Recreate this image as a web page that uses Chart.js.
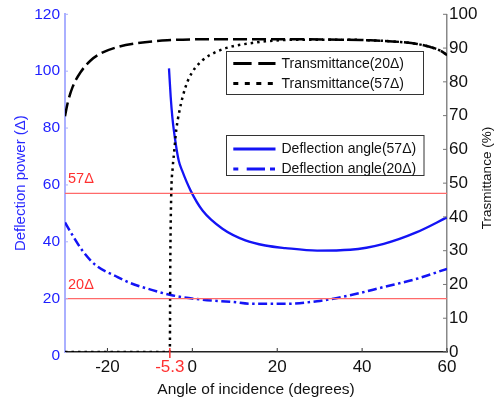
<!DOCTYPE html>
<html>
<head>
<meta charset="utf-8">
<title>Deflection power and transmittance vs angle of incidence</title>
<script src="https://cdn.jsdelivr.net/npm/chart.js@4/dist/chart.umd.min.js"></script>
<style>
  html, body { margin: 0; padding: 0; background: #fff; }
  #chart { display: block; }
</style>
</head>
<body>
<canvas id="chart" width="494" height="405"></canvas>
<script>
// Values (angle of incidence in degrees)
const t20Angle = [-30, -29.4, -28.2, -26.3, -23.9, -21.6, -17.6, -13.8, -5.9, 5, 20, 35, 42, 49, 53, 56.1, 58.5, 60];
const t20Values = [69.8, 73.6, 78.5, 82.9, 86.4, 88.4, 90.3, 91.3, 92.3, 92.6, 92.6, 92.5, 92.3, 91.8, 91.2, 90.3, 89.2, 87.9];

const t57Angle = [-30, -5.3, -5.2, -5.0, -4.6, -4.3, -3.8, -3.0, -1.6, 0, 2.4, 5.5, 9.4, 14.1, 17.2, 25, 35, 42, 49, 53, 56.1, 58.5, 60];
const t57Values = [0, 0, 25, 45, 55, 59, 65.6, 71.6, 78.5, 82.9, 86.4, 88.8, 90.5, 91.5, 92, 92.5, 92.5, 92.3, 91.8, 91.2, 90.3, 89.2, 87.9];

const d57Angle = [-5.5, -5.1, -4.7, -3.9, -3.2, -2.4, -0.4, 2.4, 7.1, 12.5, 17.2, 21.9, 29.4, 37.2, 45.1, 52.9, 60];
const d57Values = [101, 91, 83.7, 74.4, 68.5, 65, 58, 51, 44.6, 40.5, 38.7, 37.8, 36.9, 37.2, 39.3, 43.4, 48.6];

const d20Angle = [-30, -28.1, -25.7, -22.7, -17.6, -14.8, -9.8, -5.1, 2, 9.8, 13.7, 21.6, 29.4, 37.2, 45.1, 52.9, 60];
const d20Values = [46.8, 42, 36.5, 31.7, 27.6, 25.6, 23.2, 21.3, 19.7, 18.8, 18.2, 18.2, 19.1, 21.2, 24.1, 27.0, 30.5];

const refLevels = [57, 20];
const refLabels = ['57Δ', '20Δ'];
const criticalAngle = -5.3;

const xTicks = [-20, -5.3, 0, 20, 40, 60];
const leftTicks = [0, 20, 40, 60, 80, 100, 120];
const rightTicks = [0, 10, 20, 30, 40, 50, 60, 70, 80, 90, 100];

const FONT = "'Liberation Sans', Arial, Helvetica, sans-serif";
const BLUE = '#1414f5';
const RED = '#ff3030';

function toPoints(xs, ys) {
  return xs.map((x, i) => ({ x: x, y: ys[i] }));
}

function line(ctx, x1, y1, x2, y2) {
  ctx.beginPath();
  ctx.moveTo(x1, y1);
  ctx.lineTo(x2, y2);
  ctx.stroke();
}

// inward ticks, red markers, right title and the two legend boxes
const overlay = {
  id: 'overlay',
  afterDraw(chart) {
    const ctx = chart.ctx;
    const { x, y, y2 } = chart.scales;
    const area = chart.chartArea;
    ctx.save();
    ctx.setLineDash([]);

    ctx.lineWidth = 1;
    ctx.strokeStyle = '#333';
    xTicks.forEach(v => {
      if (v === criticalAngle) return;
      const px = x.getPixelForValue(v);
      line(ctx, px, area.bottom, px, area.bottom - 4);
    });
    ctx.strokeStyle = '#aab0ff';
    leftTicks.forEach(v => {
      const py = y.getPixelForValue(v);
      if (py > area.bottom - 1) return;
      line(ctx, area.left, py, area.left + 3, py);
    });
    ctx.strokeStyle = '#777';
    rightTicks.forEach(v => {
      const py = y2.getPixelForValue(v);
      line(ctx, area.right, py, area.right - 4, py);
    });

    // critical angle marker
    ctx.strokeStyle = RED;
    ctx.lineWidth = 1.5;
    const cx = x.getPixelForValue(criticalAngle);
    line(ctx, cx, area.bottom - 4, cx, area.bottom + 6);

    // level labels
    ctx.fillStyle = RED;
    ctx.font = '14.5px ' + FONT;
    ctx.textBaseline = 'middle';
    ctx.textAlign = 'left';
    refLevels.forEach((v, i) => {
      ctx.fillText(refLabels[i], area.left + 3, y.getPixelForValue(v) - 14);
    });

    // right axis title, reading upwards
    ctx.save();
    ctx.translate(487, 178);
    ctx.rotate(-Math.PI / 2);
    ctx.fillStyle = '#111';
    ctx.font = '13.5px ' + FONT;
    ctx.textAlign = 'center';
    ctx.textBaseline = 'middle';
    ctx.fillText('Trasmittance (%)', 0, 0);
    ctx.restore();

    // legends
    const groups = [
      { box: [226.5, 51.5, 197, 43], rows: [63.5, 83.5], items: chart.data.datasets.slice(2, 4) },
      { box: [226.5, 135.5, 197.5, 40], rows: [149, 169], items: chart.data.datasets.slice(4, 6) }
    ];
    groups.forEach(g => {
      ctx.setLineDash([]);
      ctx.fillStyle = '#fff';
      ctx.fillRect(g.box[0], g.box[1], g.box[2], g.box[3]);
      ctx.strokeStyle = '#333';
      ctx.lineWidth = 1;
      ctx.strokeRect(g.box[0], g.box[1], g.box[2], g.box[3]);
      g.items.forEach((ds, i) => {
        const ry = g.rows[i];
        ctx.strokeStyle = ds.borderColor;
        ctx.lineWidth = 3;
        ctx.setLineDash(ds.legendDash);
        line(ctx, 233.3, ry, 275.5, ry);
        ctx.setLineDash([]);
        ctx.fillStyle = '#111';
        ctx.font = '14px ' + FONT;
        ctx.textAlign = 'left';
        ctx.textBaseline = 'middle';
        ctx.fillText(ds.label, 281.5, ry + 0.5);
      });
    });
    ctx.restore();
  }
};

const levelSets = refLevels.map(v => ({
  label: 'level ' + v,
  data: toPoints([-30, 60], [v, v]),
  yAxisID: 'y',
  borderColor: '#ff6a6a',
  borderWidth: 1.3,
  pointRadius: 0,
  showLine: true
}));

new Chart(document.getElementById('chart'), {
  type: 'scatter',
  data: {
    datasets: [
      ...levelSets,
      {
        label: 'Transmittance(20Δ)',
        data: toPoints(t20Angle, t20Values),
        yAxisID: 'y2',
        borderColor: '#000',
        borderWidth: 2.5,
        borderDash: [14, 5],
        legendDash: [18.3, 6.7],
        pointRadius: 0,
        showLine: true,
        cubicInterpolationMode: 'monotone'
      },
      {
        label: 'Transmittance(57Δ)',
        data: toPoints(t57Angle, t57Values),
        yAxisID: 'y2',
        borderColor: '#000',
        borderWidth: 2.5,
        borderDash: [2.5, 4],
        legendDash: [5, 6.5],
        pointRadius: 0,
        showLine: true,
        cubicInterpolationMode: 'monotone'
      },
      {
        label: 'Deflection angle(57Δ)',
        data: toPoints(d57Angle, d57Values),
        yAxisID: 'y',
        borderColor: BLUE,
        borderWidth: 2.3,
        legendDash: [],
        pointRadius: 0,
        showLine: true,
        cubicInterpolationMode: 'monotone'
      },
      {
        label: 'Deflection angle(20Δ)',
        data: toPoints(d20Angle, d20Values),
        yAxisID: 'y',
        borderColor: BLUE,
        borderWidth: 2.5,
        borderDash: [9, 3.5, 2.5, 3.5],
        legendDash: [5, 8.4, 18.3, 5],
        pointRadius: 0,
        showLine: true,
        cubicInterpolationMode: 'monotone'
      }
    ]
  },
  options: {
    responsive: false,
    animation: false,
    layout: { padding: { top: 13.5, left: 0, right: 0, bottom: 0 } },
    plugins: {
      legend: { display: false },
      tooltip: { enabled: false }
    },
    scales: {
      x: {
        type: 'linear',
        min: -30,
        max: 60,
        afterBuildTicks: s => { s.ticks = xTicks.map(v => ({ value: v })); },
        afterFit: s => { s.height = 53; },
        grid: { display: false, drawTicks: false },
        border: { display: true, color: '#222', width: 1.5 },
        ticks: {
          autoSkip: false,
          maxRotation: 0,
          padding: 5,
          font: { family: FONT, size: 17 },
          color: c => (c.tick && c.tick.value === criticalAngle ? RED : '#111'),
          callback: v => String(v)
        },
        title: {
          display: true,
          text: 'Angle of incidence (degrees)',
          color: '#111',
          font: { family: FONT, size: 15.5 },
          padding: { top: 0, bottom: 5.5 }
        }
      },
      y: {
        position: 'left',
        min: 1.25,
        max: 120,
        afterBuildTicks: s => { s.ticks = leftTicks.map(v => ({ value: v })); },
        afterFit: s => { s.width = 65; },
        grid: { display: false, drawTicks: false },
        border: { display: true, color: '#aab0ff', width: 2 },
        ticks: {
          padding: 5,
          font: { family: FONT, size: 15.5 },
          color: '#1e1eff',
          callback: v => String(v)
        },
        title: {
          display: true,
          text: 'Deflection power (Δ)',
          color: '#2a2aff',
          font: { family: FONT, size: 15 },
          padding: { top: 12, bottom: 0 }
        }
      },
      y2: {
        position: 'right',
        min: 0,
        max: 100,
        afterBuildTicks: s => { s.ticks = rightTicks.map(v => ({ value: v })); },
        afterFit: s => { s.width = 47; },
        grid: { display: false, drawTicks: false },
        border: { display: true, color: '#888', width: 1.5 },
        ticks: {
          padding: 2,
          font: { family: FONT, size: 17 },
          color: '#111',
          callback: v => String(v)
        }
      }
    }
  },
  plugins: [overlay]
});
</script>
</body>
</html>
